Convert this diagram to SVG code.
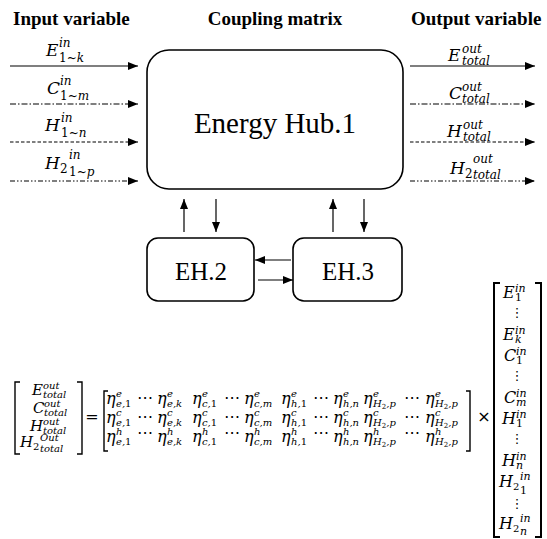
<svg xmlns="http://www.w3.org/2000/svg" width="547" height="539" viewBox="0 0 547 539">
<defs>
<marker id="ah" viewBox="0 0 10 8" refX="10" refY="4" markerWidth="10" markerHeight="8" markerUnits="userSpaceOnUse" orient="auto"><path d="M0 0L10 4L0 8z" fill="#000" stroke="none"/></marker>
<style>
.ttl{font-family:"Liberation Serif",serif;font-weight:bold;font-size:19px;fill:#000}
.lbl{font-family:"Liberation Serif",serif;fill:#000}
.m{font-family:"DejaVu Serif",serif;font-style:italic;font-size:17px;fill:#000}
.m16{font-size:16px}
.m15{font-size:15px}
.s{font-size:10px}
.s11{font-size:11px}
.s12{font-size:12px}
.ss{font-size:7px;font-style:italic}
.n{font-style:normal}
.op{font-family:"DejaVu Sans",sans-serif;font-size:16px;fill:#000}
.vd{font-family:"DejaVu Sans",sans-serif;font-size:13px;fill:#000}
.box{fill:#fff;stroke:#000;stroke-width:1.6}
.ln{stroke:#000;stroke-width:1.2;fill:none;marker-end:url(#ah)}
.dd{stroke-dasharray:6 2 1.5 2}
.da{stroke-dasharray:3.5 2}
.ddd{stroke-dasharray:5 2 1.5 2 1.5 2}
.br{fill:none;stroke:#000;stroke-width:1.4}
.brb{fill:none;stroke:#000;stroke-width:2}
</style>
</defs>
<rect width="547" height="539" fill="#fff"/>

<g id="titles">
<text class="ttl" x="13" y="25">Input variable</text>
<text class="ttl" x="275" y="25" text-anchor="middle">Coupling matrix</text>
<text class="ttl" x="411" y="25">Output variable</text>
</g>

<g id="hub1">
<rect class="box" x="147" y="50" width="256" height="139" rx="22"/>
<text class="lbl" x="275" y="133" font-size="29" text-anchor="middle">Energy Hub.1</text>
</g>
<g id="eh2">
<rect class="box" x="147" y="238" width="107" height="63" rx="11"/>
<text class="lbl" x="201" y="280" font-size="25" text-anchor="middle">EH.2</text>
</g>
<g id="eh3">
<rect class="box" x="293" y="238" width="109" height="63" rx="11"/>
<text class="lbl" x="348" y="280" font-size="25" text-anchor="middle">EH.3</text>
</g>

<g id="connectors">
<line class="ln" x1="10" y1="66" x2="138" y2="66"/>
<line class="ln dd" x1="10" y1="104" x2="138" y2="104"/>
<line class="ln da" x1="10" y1="142" x2="138" y2="142"/>
<line class="ln ddd" x1="10" y1="181" x2="138" y2="181"/>
<line class="ln" x1="410" y1="66" x2="535" y2="66"/>
<line class="ln dd" x1="410" y1="104" x2="535" y2="104"/>
<line class="ln da" x1="410" y1="142" x2="535" y2="142"/>
<line class="ln ddd" x1="410" y1="181" x2="535" y2="181"/>
<line class="ln" x1="184" y1="232" x2="184" y2="199"/>
<line class="ln" x1="216" y1="199" x2="216" y2="232"/>
<line class="ln" x1="333" y1="232" x2="333" y2="199"/>
<line class="ln" x1="364" y1="199" x2="364" y2="232"/>
<line class="ln" x1="291" y1="260" x2="255" y2="260"/>
<line class="ln" x1="258" y1="280" x2="293" y2="280"/>
</g>

<g id="input-labels">
<text class="m" y="56"><tspan x="46">E</tspan><tspan class="s12" x="59" y="47">in</tspan><tspan class="s12" x="59" y="62"><tspan class="n">1~</tspan>k</tspan></text>
<text class="m" y="94"><tspan x="47">C</tspan><tspan class="s12" x="60" y="85">in</tspan><tspan class="s12" x="60" y="100"><tspan class="n">1~</tspan>m</tspan></text>
<text class="m" y="131"><tspan x="45">H</tspan><tspan class="s12" x="61" y="122">in</tspan><tspan class="s12" x="61" y="137"><tspan class="n">1~</tspan>n</tspan></text>
<text class="m" y="169"><tspan x="45">H</tspan><tspan class="s12 n" x="60" y="173">2</tspan><tspan class="s12" x="69" y="159">in</tspan><tspan class="s12" x="69" y="176"><tspan class="n">1~</tspan>p</tspan></text>
</g>

<g id="output-labels">
<text class="m" y="61"><tspan x="448">E</tspan><tspan class="s12" x="462" y="53">out</tspan><tspan class="s12" x="462" y="65">total</tspan></text>
<text class="m" y="99"><tspan x="449">C</tspan><tspan class="s12" x="462" y="91">out</tspan><tspan class="s12" x="462" y="103">total</tspan></text>
<text class="m" y="137"><tspan x="447">H</tspan><tspan class="s12" x="463" y="129">out</tspan><tspan class="s12" x="463" y="141">total</tspan></text>
<text class="m" y="174"><tspan x="450">H</tspan><tspan class="s12 n" x="465" y="178">2</tspan><tspan class="s12" x="473" y="163">out</tspan><tspan class="s12" x="473" y="179">total</tspan></text>
</g>

<g id="equation">
<path class="br" d="M20 382H15V454H20M77 382H82V454H77"/>
<text class="m m15" y="395"><tspan x="32">E</tspan><tspan class="s" x="43" y="389">out</tspan><tspan class="s" x="43" y="398">total</tspan></text>
<text class="m m15" y="413"><tspan x="33">C</tspan><tspan class="s" x="44" y="407">out</tspan><tspan class="s" x="44" y="416">total</tspan></text>
<text class="m m15" y="431"><tspan x="30">H</tspan><tspan class="s" x="43" y="425">out</tspan><tspan class="s" x="43" y="434">total</tspan></text>
<text class="m m15" y="447"><tspan x="20">H</tspan><tspan class="s n" x="33" y="450">2</tspan><tspan class="s" x="40" y="441">Out</tspan><tspan class="s" x="40" y="452">total</tspan></text>
<text class="op" x="92" y="422" text-anchor="middle" font-size="18">=</text>

<path class="br" d="M108 391H104V451H108M466 391H470V451H466"/>
<g id="row-e">
<text class="m m16" y="404"><tspan x="106">η</tspan><tspan class="s" x="116" y="397">e</tspan><tspan class="s" x="116" y="407">e,<tspan class="n">1</tspan></tspan></text>
<text class="op" x="145" y="403" text-anchor="middle">⋯</text>
<text class="m m16" y="404"><tspan x="157">η</tspan><tspan class="s" x="167" y="397">e</tspan><tspan class="s" x="167" y="407">e,k</tspan></text>
<text class="m m16" y="404"><tspan x="192">η</tspan><tspan class="s" x="202" y="397">e</tspan><tspan class="s" x="202" y="407">c,<tspan class="n">1</tspan></tspan></text>
<text class="op" x="232" y="403" text-anchor="middle">⋯</text>
<text class="m m16" y="404"><tspan x="244">η</tspan><tspan class="s" x="254" y="397">e</tspan><tspan class="s" x="254" y="407">c,m</tspan></text>
<text class="m m16" y="404"><tspan x="281">η</tspan><tspan class="s" x="291" y="397">e</tspan><tspan class="s" x="291" y="407">h,<tspan class="n">1</tspan></tspan></text>
<text class="op" x="321" y="403" text-anchor="middle">⋯</text>
<text class="m m16" y="404"><tspan x="333">η</tspan><tspan class="s" x="343" y="397">e</tspan><tspan class="s" x="343" y="407">h,n</tspan></text>
<text class="m m16" y="404"><tspan x="363">η</tspan><tspan class="s" x="373" y="397">e</tspan><tspan class="s" x="373" y="407">H<tspan class="ss n" dy="2">2</tspan><tspan dy="-2">,p</tspan></tspan></text>
<text class="op" x="412" y="403" text-anchor="middle">⋯</text>
<text class="m m16" y="404"><tspan x="425">η</tspan><tspan class="s" x="435" y="397">e</tspan><tspan class="s" x="435" y="407">H<tspan class="ss n" dy="2">2</tspan><tspan dy="-2">,p</tspan></tspan></text>
</g>
<g id="row-c">
<text class="m m16" y="423"><tspan x="106">η</tspan><tspan class="s" x="116" y="416">c</tspan><tspan class="s" x="116" y="426">e,<tspan class="n">1</tspan></tspan></text>
<text class="op" x="145" y="422" text-anchor="middle">⋯</text>
<text class="m m16" y="423"><tspan x="157">η</tspan><tspan class="s" x="167" y="416">c</tspan><tspan class="s" x="167" y="426">e,k</tspan></text>
<text class="m m16" y="423"><tspan x="192">η</tspan><tspan class="s" x="202" y="416">c</tspan><tspan class="s" x="202" y="426">c,<tspan class="n">1</tspan></tspan></text>
<text class="op" x="232" y="422" text-anchor="middle">⋯</text>
<text class="m m16" y="423"><tspan x="244">η</tspan><tspan class="s" x="254" y="416">c</tspan><tspan class="s" x="254" y="426">c,m</tspan></text>
<text class="m m16" y="423"><tspan x="281">η</tspan><tspan class="s" x="291" y="416">c</tspan><tspan class="s" x="291" y="426">h,<tspan class="n">1</tspan></tspan></text>
<text class="op" x="321" y="422" text-anchor="middle">⋯</text>
<text class="m m16" y="423"><tspan x="333">η</tspan><tspan class="s" x="343" y="416">c</tspan><tspan class="s" x="343" y="426">h,n</tspan></text>
<text class="m m16" y="423"><tspan x="363">η</tspan><tspan class="s" x="373" y="416">c</tspan><tspan class="s" x="373" y="426">H<tspan class="ss n" dy="2">2</tspan><tspan dy="-2">,p</tspan></tspan></text>
<text class="op" x="412" y="422" text-anchor="middle">⋯</text>
<text class="m m16" y="423"><tspan x="425">η</tspan><tspan class="s" x="435" y="416">c</tspan><tspan class="s" x="435" y="426">H<tspan class="ss n" dy="2">2</tspan><tspan dy="-2">,p</tspan></tspan></text>
</g>
<g id="row-h">
<text class="m m16" y="442"><tspan x="106">η</tspan><tspan class="s" x="116" y="435">h</tspan><tspan class="s" x="116" y="445">e,<tspan class="n">1</tspan></tspan></text>
<text class="op" x="145" y="438" text-anchor="middle">⋯</text>
<text class="m m16" y="442"><tspan x="157">η</tspan><tspan class="s" x="167" y="435">h</tspan><tspan class="s" x="167" y="445">e,k</tspan></text>
<text class="m m16" y="442"><tspan x="192">η</tspan><tspan class="s" x="202" y="435">h</tspan><tspan class="s" x="202" y="445">c,<tspan class="n">1</tspan></tspan></text>
<text class="op" x="232" y="438" text-anchor="middle">⋯</text>
<text class="m m16" y="442"><tspan x="244">η</tspan><tspan class="s" x="254" y="435">h</tspan><tspan class="s" x="254" y="445">c,m</tspan></text>
<text class="m m16" y="442"><tspan x="281">η</tspan><tspan class="s" x="291" y="435">h</tspan><tspan class="s" x="291" y="445">h,<tspan class="n">1</tspan></tspan></text>
<text class="op" x="321" y="438" text-anchor="middle">⋯</text>
<text class="m m16" y="442"><tspan x="333">η</tspan><tspan class="s" x="343" y="435">h</tspan><tspan class="s" x="343" y="445">h,n</tspan></text>
<text class="m m16" y="442"><tspan x="363">η</tspan><tspan class="s" x="373" y="435">h</tspan><tspan class="s" x="373" y="445">H<tspan class="ss n" dy="2">2</tspan><tspan dy="-2">,p</tspan></tspan></text>
<text class="op" x="412" y="438" text-anchor="middle">⋯</text>
<text class="m m16" y="442"><tspan x="425">η</tspan><tspan class="s" x="435" y="435">h</tspan><tspan class="s" x="435" y="445">H<tspan class="ss n" dy="2">2</tspan><tspan dy="-2">,p</tspan></tspan></text>
</g>

<text class="op" x="484" y="422" text-anchor="middle">×</text>

<path class="brb" d="M500 283H494V537H500M535 283H541V537H535"/>
<text class="m m16" y="298"><tspan x="503">E</tspan><tspan class="s11" x="515" y="292">in</tspan><tspan class="s11 n" x="515" y="301">1</tspan></text>
<text class="vd" x="517" y="317" text-anchor="middle">⋮</text>
<text class="m m16" y="340"><tspan x="503">E</tspan><tspan class="s11" x="515" y="334">in</tspan><tspan class="s11" x="515" y="343">k</tspan></text>
<text class="m m16" y="361"><tspan x="504">C</tspan><tspan class="s11" x="516" y="355">in</tspan><tspan class="s11 n" x="516" y="364">1</tspan></text>
<text class="vd" x="517" y="380" text-anchor="middle">⋮</text>
<text class="m m16" y="403"><tspan x="504">C</tspan><tspan class="s11" x="516" y="397">in</tspan><tspan class="s11" x="516" y="406">m</tspan></text>
<text class="m m16" y="424"><tspan x="502">H</tspan><tspan class="s11" x="516" y="418">in</tspan><tspan class="s11 n" x="516" y="427">1</tspan></text>
<text class="vd" x="517" y="443" text-anchor="middle">⋮</text>
<text class="m m16" y="466"><tspan x="502">H</tspan><tspan class="s11" x="516" y="460">in</tspan><tspan class="s11" x="516" y="469">n</tspan></text>
<text class="m m16" y="487"><tspan x="499">H</tspan><tspan class="s n" x="513" y="490">2</tspan><tspan class="s11" x="520" y="480">in</tspan><tspan class="s11 n" x="520" y="494">1</tspan></text>
<text class="vd" x="517" y="508" text-anchor="middle">⋮</text>
<text class="m m16" y="529"><tspan x="499">H</tspan><tspan class="s n" x="513" y="532">2</tspan><tspan class="s11" x="520" y="522">in</tspan><tspan class="s11" x="520" y="535">n</tspan></text>
</g>
</svg>
